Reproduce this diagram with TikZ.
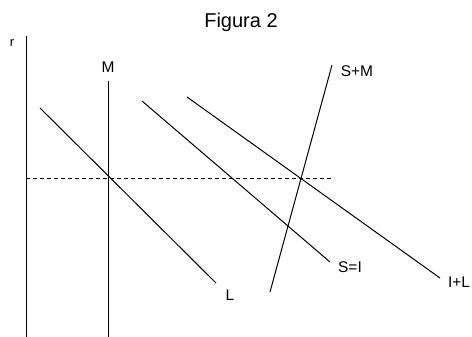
\documentclass[tikz,border=0pt]{standalone}
\usepackage{fontspec}
\setmainfont{Liberation Sans}
\usetikzlibrary{positioning}

\begin{document}
\begin{tikzpicture}[
  x=1pt, y=-1pt,
  curve/.style={line width=1pt},
  guide/.style={line width=0.9pt, dash pattern=on 4pt off 3pt},
  lbl/.style={font=\fontsize{15.5}{18}\selectfont, inner sep=0pt}
]
\useasboundingbox (0,0) rectangle (472,337);

\node[font=\fontsize{20}{24}\selectfont] (title) at (241,22) {Figura 2};

% axis and money supply
\coordinate (ytop) at (26,36);
\coordinate (ybot) at (26,337);
\coordinate (mtop) at (108,81);
\coordinate (mbot) at (108,337);
\node[lbl, font=\fontsize{13}{15}\selectfont] (r) at (12,43) {r};
\node[lbl] (mlab) at (108,67) {M};
\draw[curve] (ytop) -- (ybot);
\draw[curve] (mtop) -- (mbot);

% interest rate level
\coordinate (rleft) at (26,178);
\coordinate (rright) at (332,178);
\draw[guide] (rleft) -- (rright);

% schedules
\coordinate (ltop) at (40,108);
\coordinate (lend) at (216,283);
\coordinate (sitop) at (142,101);
\coordinate (siend) at (330,262);
\coordinate (iltop) at (187,97);
\coordinate (ilend) at (440,278);
\coordinate (smtop) at (332,65);
\coordinate (smbot) at (270,292);

\draw[curve] (ltop) -- (lend);
\draw[curve] (sitop) -- (siend);
\draw[curve] (iltop) -- (ilend);
\draw[curve] (smbot) -- (smtop);

\node[lbl] (llab) at (230,295) {L};
\node[lbl] (silab) at (350,267) {S=I};
\node[lbl] (illab) at (459,282) {I+L};
\node[lbl] (smlab) at (357,71) {S+M};

\end{tikzpicture}
\end{document}
